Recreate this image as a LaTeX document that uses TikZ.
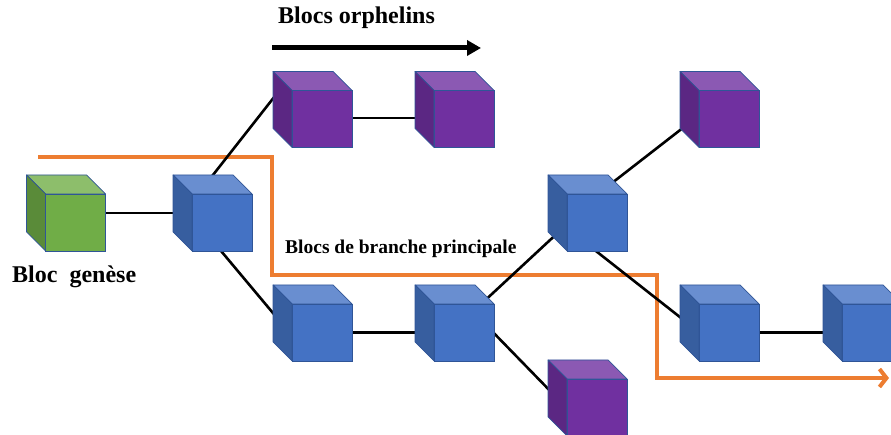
\documentclass[tikz,border=0pt]{standalone}
\usepackage{fontspec}
\setmainfont{Liberation Serif}
\usetikzlibrary{arrows.meta,backgrounds}
\definecolor{Fbleu}{HTML}{4472C4}
\definecolor{Hbleu}{HTML}{698ED0}
\definecolor{Cbleu}{HTML}{375E9F}
\definecolor{Fvert}{HTML}{70AD47}
\definecolor{Hvert}{HTML}{8DBE6B}
\definecolor{Cvert}{HTML}{5A8B39}
\definecolor{Fviolet}{HTML}{7030A0}
\definecolor{Hviolet}{HTML}{8B59B3}
\definecolor{Cviolet}{HTML}{5B2783}
\definecolor{bord}{HTML}{2F5597}
\definecolor{chaineorange}{HTML}{ED7D31}

\begin{document}
\begin{tikzpicture}[x=1pt,y=1pt,
  face/.style={draw=bord,line width=0.7pt,minimum width=60pt,minimum height=57pt,inner sep=0pt,outer sep=0pt},
  blocbleu/.style={face,fill=Fbleu},
  blocvert/.style={face,fill=Fvert},
  blocviolet/.style={face,fill=Fviolet},
  lien/.style={line width=2.6pt,black},
  chaine/.style={line width=4pt,chaineorange,line join=miter,-{Straight Barb[length=7pt,width=18pt]}},
  fleche/.style={line width=5pt,black,-{Triangle[length=14pt,width=15pt]}},
  titre/.style={font=\fontsize{24}{28}\selectfont\bfseries,anchor=base west,inner sep=0pt}]
  \useasboundingbox (0,0) rectangle (891,435);
  \clip (0,0) rectangle (891,435);
  % blocs (face avant)
  \node[blocvert] (gen) at (75.5,212.5) {};
  \node[blocbleu] (b1) at (222,212.5) {};
  \node[blocviolet] (p1) at (322,316) {};
  \node[blocviolet] (p2) at (464,316) {};
  \node[blocviolet] (p3) at (729,316) {};
  \node[blocbleu] (b2) at (322,102.5) {};
  \node[blocbleu] (b3) at (464,102.5) {};
  \node[blocbleu] (b4) at (597,212.5) {};
  \node[blocbleu] (b5) at (729,102.5) {};
  \node[blocbleu] (b6) at (872,102.5) {};
  \node[blocviolet] (p4) at (597,27.5) {};
  % dessus et cote des cubes
  \foreach \n/\col in {gen/vert,b1/bleu,p1/violet,p2/violet,p3/violet,b2/bleu,b3/bleu,b4/bleu,b5/bleu,b6/bleu,p4/violet}{
    \filldraw[draw=bord,line width=0.7pt,line join=round,fill=H\col] (\n.north west) -- ++(-19,19) -- ++(60,0) -- (\n.north east) -- cycle;
    \filldraw[draw=bord,line width=0.7pt,line join=round,fill=C\col] (\n.north west) -- ++(-19,19) -- ++(0,-57) -- (\n.south west) -- cycle;
  }
  % textes
  \node[titre] (torph) at (278,411) {Blocs orphelins};
  \node[titre] (tgen) at (12,152) {Bloc\ \ genèse};
  \node[titre,font=\fontsize{19.5}{23}\selectfont\bfseries] (tbranche) at (285,181) {Blocs de branche principale};
  % fleche noire
  \coordinate (fa) at (272,387);
  \coordinate (fb) at (481,387);
  \draw[fleche] (fa) -- (fb);
  % liens et chaine principale, derriere les cubes
  \begin{scope}[on background layer]
    \coordinate (debut) at (38,278);
    \coordinate (fin) at (889,57);
    \draw[chaine] (debut) -| (272,160) -| (657,57) -- (fin);
    \draw[lien] ([yshift=9.5]gen.center) -- ([yshift=9.5]b1.center);
    \draw[lien] ([shift={(-22,31)}]b1.center) -- ([shift={(-36,37)}]p1.center);
    \draw[lien] ([shift={(-11,-16.5)}]b1.center) -- ([shift={(-39,7.5)}]b2.center);
    \draw[lien] ([yshift=1]p1.center) -- ([yshift=1]p2.center);
    \draw[lien] (b2.center) -- (b3.center);
    \draw[lien] ([shift={(15,26.5)}]b3.center) -- ([shift={(-34,-5.5)}]b4.center);
    \draw[lien] ([shift={(20,9.5)}]b3.center) -- ([shift={(-39,8.5)}]p4.center);
    \draw[lien] ([shift={(6,32.5)}]b4.center) -- ([shift={(-38,-2.6)}]p3.center);
    \draw[lien] ([shift={(-10,-21.5)}]b4.center) -- ([shift={(-39,7.5)}]b5.center);
    \draw[lien] (b5.center) -- (b6.center);
  \end{scope}
\end{tikzpicture}
\end{document}
